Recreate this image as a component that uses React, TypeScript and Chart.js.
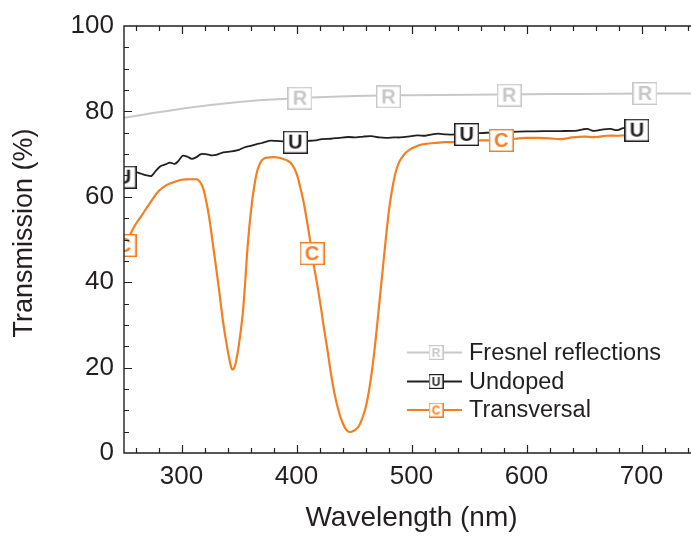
import React, { useEffect, useRef } from "react";
import { Chart, registerables } from "chart.js";

Chart.register(...registerables);

const FONT = '"Liberation Sans", Arial, Helvetica, sans-serif';
const INK = "#231f20";

const seriesNames = ["Fresnel reflections", "Undoped", "Transversal"];
const seriesLetters = ["R", "U", "C"];
const seriesColors = ["#c8c8c8", "#231f20", "#f47f20"];
const seriesWidths = [2, 1.8, 2.2];
const seriesTension = [0.3, 0.3, 0.4];

// Fresnel reflections
const fresnelWl = [250, 275, 300, 325, 350, 375, 400, 425, 450, 475, 500, 550, 600, 650, 700, 750];
const fresnelT = [78.5, 79.6, 80.6, 81.5, 82.2, 82.7, 83.1, 83.4, 83.6, 83.7, 83.8, 83.9, 84.0, 84.1, 84.2, 84.2];
const fresnelMarkWl = [403, 480, 585, 703];
const fresnelMarkT = [83.1, 83.4, 83.8, 84.2];

// Undoped
const undopedWl = [
  250, 255, 260, 265, 270, 274, 278, 282, 286, 290, 294, 297, 301, 305, 309, 313, 317, 321, 326, 330,
  335, 340, 345, 350, 355, 360, 365, 370, 376, 382, 388, 395, 400, 410, 416, 422, 430, 437, 445, 452,
  458, 465, 472, 478, 485, 490, 497, 505, 512, 518, 523, 530, 540, 548, 555, 565, 575, 586, 600, 615,
  630, 644, 649, 653, 657, 661, 667, 673, 679, 684, 690, 696,
];
const undopedT = [
  64.5, 65.5, 65.8, 65.4, 65.0, 64.9, 66.2, 67.2, 67.6, 68.0, 67.7, 68.3, 69.6, 69.4, 68.9, 69.3, 70.0, 70.0, 69.7, 69.8,
  70.3, 70.5, 70.7, 71.0, 71.6, 71.9, 72.3, 72.6, 73.1, 73.1, 73.0, 72.9, 72.9, 73.1, 73.2, 73.5, 73.6, 73.8, 74.0, 73.9,
  74.1, 74.2, 73.9, 73.8, 73.9, 73.9, 74.1, 74.4, 74.3, 74.6, 74.8, 74.6, 74.6, 74.7, 74.8, 75.0, 75.1, 75.2, 75.3, 75.4,
  75.4, 75.5, 75.8, 75.9, 75.5, 75.5, 75.8, 75.9, 75.6, 76.1, 76.2, 75.8,
];
const undopedMarkWl = [250, 399, 548, 696];
const undopedMarkT = [64.6, 72.8, 74.6, 75.6];

// Transversal
const transWl = [
  250, 255, 260, 265, 270, 275, 280, 285, 290, 295, 300, 305, 310, 314, 318, 321, 324, 327, 330, 333,
  336, 339, 342, 344, 346, 348, 350, 353, 355, 357, 359, 361, 363, 366, 369, 372, 376, 380, 384, 388,
  392, 396, 400, 403, 406, 409, 412, 415, 418, 421, 424, 427, 430, 433, 436, 439, 442, 445, 448, 451,
  454, 457, 460, 463, 466, 469, 472, 475, 478, 481, 484, 487, 490, 495, 500, 505, 510, 520, 530, 540,
  550, 560, 570, 580, 590, 600, 610, 620, 630, 640, 650, 660, 670, 680, 690, 696,
];
const transT = [
  48.5, 51.0, 53.5, 55.5, 57.5, 59.5, 61.3, 62.4, 63.1, 63.6, 64.0, 64.1, 64.1, 64.0, 62.6, 59.6, 55.3, 49.5, 43.6, 37.5,
  31.0, 25.8, 21.5, 19.6, 20.0, 22.3, 25.5, 32.0, 38.5, 46.5, 53.0, 58.0, 62.0, 66.2, 68.2, 69.0, 69.2, 69.3, 69.2, 68.9,
  68.5, 67.6, 65.5, 62.5, 59.0, 54.5, 49.5, 44.0, 39.5, 34.5, 29.0, 24.0, 18.5, 14.0, 10.5, 7.8, 6.0, 5.0, 5.0, 5.4,
  6.2, 8.0, 10.5, 14.5, 20.0, 27.0, 35.0, 43.0, 51.0, 58.0, 63.0, 66.5, 68.5, 70.3, 71.3, 71.9, 72.3, 72.6, 72.8, 72.8,
  73.0, 73.2, 73.2, 73.3, 73.6, 73.8, 73.8, 73.7, 73.5, 73.9, 74.1, 74.0, 74.3, 74.3, 74.5, 74.6,
];
const transMarkWl = [250, 413.5, 578];
const transMarkT = [48.6, 46.7, 73.2];

const xTickValues = [300, 400, 500, 600, 700];
const xMinorStep = 20;
const yMinorStep = 5;
const xRange = [250, 750];
const yRange = [0, 100];
const yTitle = "Transmission (%)";
const xTitle = "Wavelength (nm)";

const lineWl = [fresnelWl, undopedWl, transWl];
const lineT = [fresnelT, undopedT, transT];
const markWl = [fresnelMarkWl, undopedMarkWl, transMarkWl];
const markT = [fresnelMarkT, undopedMarkT, transMarkT];

function makeMarker(letter: string, color: string, w: number, h: number, fontSize: number, lw: number) {
  const c = document.createElement("canvas");
  c.width = w;
  c.height = h;
  const g = c.getContext("2d")!;
  g.fillStyle = "#ffffff";
  g.fillRect(0, 0, w, h);
  g.strokeStyle = color;
  g.lineWidth = lw;
  g.strokeRect(lw / 2, lw / 2, w - lw, h - lw);
  g.fillStyle = color;
  g.font = `bold ${fontSize}px ${FONT}`;
  g.textAlign = "center";
  g.textBaseline = "middle";
  g.fillText(letter, w / 2, h / 2 + 1);
  return c;
}

export default function App() {
  const ref = useRef<HTMLCanvasElement | null>(null);

  useEffect(() => {
    const canvas = ref.current;
    if (!canvas) return;

    const bigMarkers = seriesLetters.map((l, i) =>
      makeMarker(l, seriesColors[i], 25, 23, 20, 1.4)
    );
    const smallMarkers = seriesLetters.map((l, i) =>
      makeMarker(l, seriesColors[i], 15, 15, 12, 1.2)
    );

    const markerSets = seriesNames.map((name, i) => ({
      type: "scatter" as const,
      label: name + " markers",
      data: markWl[i].map((x, k) => ({ x, y: markT[i][k] })),
      pointStyle: bigMarkers[i],
      pointRadius: 12,
      showLine: false,
    }));
    const lineSets = seriesNames.map((name, i) => ({
      type: "line" as const,
      label: name,
      data: lineWl[i].map((x, k) => ({ x, y: lineT[i][k] })),
      borderColor: seriesColors[i],
      borderWidth: seriesWidths[i],
      pointRadius: 0,
      tension: seriesTension[i],
      fill: false,
    }));

    const framePlugin = {
      id: "frame",
      afterDraw(chart: any) {
        const { ctx, chartArea } = chart;
        const xs = chart.scales.x;
        const ys = chart.scales.y;
        const { left, right, top, bottom } = chartArea;
        ctx.save();
        ctx.strokeStyle = INK;
        ctx.lineWidth = 1.4;
        ctx.beginPath();
        ctx.moveTo(right, top);
        ctx.lineTo(left, top);
        ctx.lineTo(left, bottom);
        ctx.lineTo(right, bottom);
        ctx.lineTo(right, top);
        ctx.stroke();
        ctx.lineWidth = 1.2;
        ctx.beginPath();
        for (let v = xRange[0] + 10; v < xRange[1]; v += xMinorStep) {
          const major = xTickValues.includes(v);
          const len = major ? 8 : 5;
          const px = Math.round(xs.getPixelForValue(v)) + 0.5;
          ctx.moveTo(px, bottom);
          ctx.lineTo(px, bottom - len);
          ctx.moveTo(px, top);
          ctx.lineTo(px, top + len);
        }
        for (let v = yRange[0] + yMinorStep; v < yRange[1]; v += yMinorStep) {
          const major = v % 20 === 0;
          const len = major ? 8 : 5;
          const py = Math.round(ys.getPixelForValue(v)) + 0.5;
          ctx.moveTo(left, py);
          ctx.lineTo(left + len, py);
          ctx.moveTo(right, py);
          ctx.lineTo(right - len, py);
        }
        ctx.stroke();

        // y axis title
        ctx.save();
        ctx.translate(25, 233);
        ctx.rotate(-Math.PI / 2);
        ctx.fillStyle = INK;
        ctx.font = `27px ${FONT}`;
        ctx.textAlign = "center";
        ctx.textBaseline = "middle";
        ctx.fillText(yTitle, 0, 0);
        ctx.restore();

        // legend
        const rows = [352.5, 381.5, 410];
        seriesNames.forEach((name, i) => {
          const y = rows[i];
          ctx.strokeStyle = seriesColors[i];
          ctx.lineWidth = seriesWidths[i];
          ctx.beginPath();
          ctx.moveTo(407, y);
          ctx.lineTo(462, y);
          ctx.stroke();
          const m = smallMarkers[i];
          ctx.drawImage(m, 436 - m.width / 2, y - m.height / 2);
          ctx.fillStyle = INK;
          ctx.font = `23.5px ${FONT}`;
          ctx.textAlign = "left";
          ctx.textBaseline = "middle";
          ctx.fillText(name, 469, y + 1);
        });
        ctx.restore();
      },
    };

    const chart = new Chart(canvas, {
      data: { datasets: [...markerSets, ...lineSets] as any },
      options: {
        animation: false,
        responsive: false,
        devicePixelRatio: 1,
        layout: { padding: { left: 0, top: 26, right: 61, bottom: 0 } },
        plugins: { legend: { display: false }, tooltip: { enabled: false } },
        scales: {
          x: {
            type: "linear",
            min: xRange[0],
            max: xRange[1],
            grid: { display: false },
            border: { display: false },
            afterBuildTicks: (s: any) => {
              s.ticks = xTickValues.map((v) => ({ value: v }));
            },
            afterFit: (s: any) => {
              s.height = 83;
            },
            ticks: {
              color: INK,
              font: { family: FONT, size: 26 },
              padding: 0,
              maxRotation: 0,
              autoSkip: false,
            },
            title: {
              display: true,
              text: xTitle,
              color: INK,
              font: { family: FONT, size: 28 },
              padding: { top: 0, bottom: 1 },
            },
          },
          y: {
            type: "linear",
            min: yRange[0],
            max: yRange[1],
            grid: { display: false },
            border: { display: false },
            afterFit: (s: any) => {
              s.width = 124;
            },
            ticks: {
              stepSize: 20,
              color: INK,
              font: { family: FONT, size: 26 },
              padding: 2,
            },
            title: { display: false },
          },
        },
      },
      plugins: [framePlugin],
    });

    return () => chart.destroy();
  }, []);

  return (
    <div
      style={{
        position: "fixed",
        left: 0,
        top: 0,
        width: 691,
        height: 536,
        overflow: "hidden",
        background: "#fff",
      }}
    >
      <canvas ref={ref} width={760} height={536} style={{ width: 760, height: 536, display: "block" }} />
    </div>
  );
}
